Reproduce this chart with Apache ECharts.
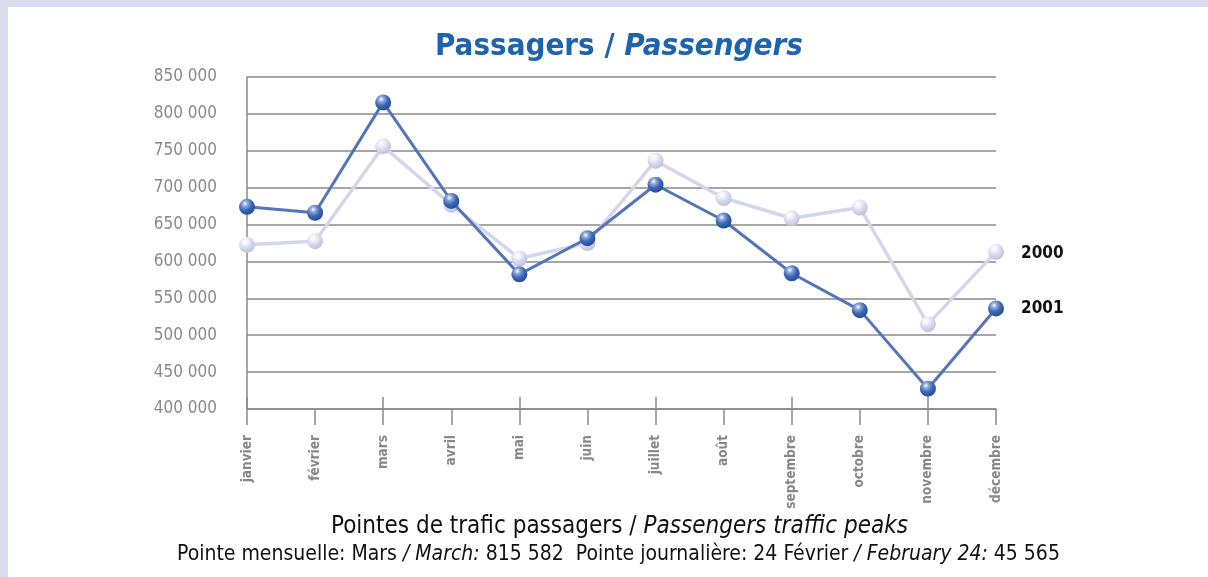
<!DOCTYPE html>
<html>
<head>
<meta charset="utf-8">
<script src="https://cdn.jsdelivr.net/npm/echarts@6/dist/echarts.min.js"></script>
<style>
  html, body { margin: 0; padding: 0; background: #fff; }
  #chart { width: 1208px; height: 577px; }
</style>
</head>
<body>
<div id="chart"></div>
<script>
// mois (axe des x)
var mois = ['janvier', 'février', 'mars', 'avril', 'mai', 'juin', 'juillet', 'août', 'septembre', 'octobre', 'novembre', 'décembre'];
// passagers par mois
var passagers2000 = [622500, 627500, 756000, 677000, 604000, 625000, 736500, 686000, 658500, 673000, 515000, 613000];
var passagers2001 = [674000, 666000, 815582, 682000, 582500, 631500, 704000, 655500, 584000, 534000, 427500, 536300];
var annees = ['2000', '2001'];

var narrow = "'DejaVu Sans Condensed', 'Liberation Sans', sans-serif";

function sepMilliers(v) {
  return String(v).replace(/\B(?=(\d{3})+(?!\d))/g, ' ');
}

// bille (marqueur) avec reflet
function bille(c1, c2, c3) {
  return {
    type: 'radial', x: 0.38, y: 0.3, r: 0.75,
    colorStops: [
      {offset: 0, color: '#ffffff'},
      {offset: 0.22, color: c1},
      {offset: 0.55, color: c2},
      {offset: 1, color: c3}
    ]
  };
}

var chart = echarts.init(document.getElementById('chart'));
var option = {
  backgroundColor: '#ffffff',
  animation: false,
  graphic: [
    {type: 'rect', shape: {x: 0, y: 0, width: 1208, height: 7}, style: {fill: '#dcdcef'}},
    {type: 'rect', shape: {x: 0, y: 0, width: 8, height: 577}, style: {fill: '#dcdcef'}}
  ],
  title: [
    {
      text: '{a|Passagers / }{b|Passengers}',
      left: 430,
      top: 26,
      textStyle: {
        rich: {
          a: {fontFamily: narrow, fontSize: 31, fontWeight: 'bold', color: '#1d63ae'},
          b: {fontFamily: narrow, fontSize: 31, fontWeight: 'bold', fontStyle: 'italic', color: '#1d63ae'}
        }
      }
    },
    {
      text: '{a|Pointes de trafic passagers / }{b|Passengers traffic peaks}',
      left: 326,
      top: 510,
      textStyle: {
        fontWeight: 'normal',
        rich: {
          a: {fontFamily: narrow, fontSize: 24, fontWeight: 'normal', color: '#111'},
          b: {fontFamily: narrow, fontSize: 24, fontWeight: 'normal', fontStyle: 'italic', color: '#111'}
        }
      }
    },
    {
      text: '{a|Pointe mensuelle: Mars }{b|/ March:}{a| 815 582  Pointe journalière: 24 Février }{b|/ February 24:}{a| 45 565}',
      left: 172,
      top: 539,
      textStyle: {
        fontWeight: 'normal',
        rich: {
          a: {fontFamily: narrow, fontSize: 21, fontWeight: 'normal', color: '#111'},
          b: {fontFamily: narrow, fontSize: 21, fontWeight: 'normal', fontStyle: 'italic', color: '#111'}
        }
      }
    }
  ],
  grid: {left: 247, right: 212, top: 77, bottom: 168},
  xAxis: [
    {
      type: 'category',
      data: mois,
      boundaryGap: false,
      axisLine: {show: true, lineStyle: {color: '#8a8a8a', width: 1.5}},
      axisTick: {show: true, length: 16, lineStyle: {color: '#8a8a8a', width: 1.5}},
      axisLabel: {
        rotate: 90, margin: 26, color: '#888', fontSize: 13.5, fontWeight: 'bold', fontFamily: narrow
      }
    },
    {
      type: 'category',
      data: mois,
      boundaryGap: false,
      position: 'bottom',
      axisLine: {show: false},
      axisTick: {show: true, inside: true, length: 12, lineStyle: {color: '#8a8a8a', width: 1.5}},
      axisLabel: {show: false}
    }
  ],
  yAxis: {
    type: 'value',
    min: 400000,
    max: 850000,
    interval: 50000,
    axisLine: {show: true, lineStyle: {color: '#8a8a8a', width: 1.5}},
    axisTick: {show: false},
    splitLine: {lineStyle: {color: '#8a8a8a', width: 1.5}},
    axisLabel: {
      margin: 30, color: '#8a8a8a', fontSize: 17, fontFamily: narrow,
      formatter: sepMilliers
    }
  },
  series: [
    {
      name: annees[0],
      type: 'line',
      data: passagers2000,
      symbol: 'circle',
      symbolSize: 16,
      lineStyle: {color: '#d3d6ec', width: 3.5},
      itemStyle: {color: bille('#f2f3fb', '#d6d9ee', '#b9bedd')},
      endLabel: {
        show: true, distance: 25, offset: [0, 2], formatter: annees[0],
        fontFamily: narrow, fontSize: 17, fontWeight: 'bold', color: '#111'
      },
      z: 2
    },
    {
      name: annees[1],
      type: 'line',
      data: passagers2001,
      symbol: 'circle',
      symbolSize: 16,
      lineStyle: {color: '#5575b8', width: 3},
      itemStyle: {color: bille('#8fa9dc', '#3d68b4', '#1b4a98')},
      endLabel: {
        show: true, distance: 25, formatter: annees[1],
        fontFamily: narrow, fontSize: 17, fontWeight: 'bold', color: '#111'
      },
      z: 3
    }
  ]
};
chart.setOption(option);
</script>
</body>
</html>
